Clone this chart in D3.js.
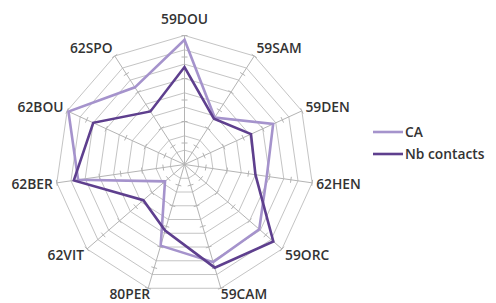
<!DOCTYPE html>
<html><head><meta charset="utf-8">
<script src="https://cdn.jsdelivr.net/npm/d3@7"></script>
<style>body{margin:0;background:#fff}svg{display:block}</style>
</head><body>
<svg id="c" width="496" height="303"></svg>
<script>
const categories = ["59DOU","59SAM","59DEN","62HEN","59ORC","59CAM","80PER","62VIT","62BER","62BOU","62SPO"];
const seriesNames = ["CA","Nb contacts"];
const caValues = [87,39,68,58,69,71,59,18,75,89,64];
const nbValues = [68,38,51,50,82,75,48,38,78,70,44];
const gridValues = [10,20,30,40,50,60,70,80,90];
const tickValues = [15,30,45,60,75,90];
const colors = ["#a593cc","#5e3f8e"];

const svg = d3.select("#c");
const cx = 184.5, cy = 164.5, R = 129;
const r = d3.scaleLinear().domain([0,90]).range([0,R]);
const ang = d3.scalePoint().domain(categories).range([0, 2*Math.PI*(categories.length-1)/categories.length]);
const pt = (c,v)=>[cx + r(v)*Math.sin(ang(c)), cy - r(v)*Math.cos(ang(c))];
const FONT = "Open Sans, sans-serif", FS = 13.8, TXT = "#333";

const g = svg.append("g");
gridValues.forEach(v=>{
  g.append("path").attr("d", d3.line()(categories.map(c=>pt(c,v))) + "Z")
   .attr("fill","none").attr("stroke","#c4c4c4").attr("stroke-width",1);
});
categories.forEach(c=>{
  const [x,y]=pt(c,90);
  g.append("line").attr("x1",cx).attr("y1",cy).attr("x2",x).attr("y2",y)
   .attr("stroke","#b4b4b4").attr("stroke-width",1);
  tickValues.forEach(v=>{
    const [px,py]=pt(c,v);
    const a=ang(c); const dx=Math.cos(a)*3, dy=Math.sin(a)*3;
    g.append("line").attr("x1",px-dx).attr("y1",py-dy).attr("x2",px+dx).attr("y2",py+dy)
     .attr("stroke","#b4b4b4").attr("stroke-width",1);
  });
});
[caValues, nbValues].forEach((vals,i)=>{
  g.append("path").attr("d", d3.line()(categories.map((c,j)=>pt(c,vals[j]))) + "Z")
   .attr("fill","none").attr("stroke",colors[i]).attr("stroke-width",2.6)
   .attr("stroke-linejoin","miter");
});
categories.forEach(c=>{
  const a=ang(c);
  const [x,y]=pt(c,90);
  const s=Math.sin(a), co=-Math.cos(a);
  let anchor = Math.abs(s)<0.2 ? "middle" : (s>0 ? "start":"end");
  let lx = x + s*4, ly = y + co*9 + 5;
  if (Math.abs(s)<0.2) { ly = y - 12; }
  if (co>0.9) { ly = y + 11; anchor = s>0 ? "start" : "end"; lx = x + (s>0?0:2); }
  g.append("text").attr("x",lx).attr("y",ly).attr("text-anchor",anchor)
   .attr("font-family",FONT).attr("font-weight",600)
   .attr("font-size",FS).attr("fill",TXT).text(c);
});
const leg = svg.append("g").attr("transform","translate(373,132)");
seriesNames.forEach((n,i)=>{
  leg.append("line").attr("x1",0).attr("x2",30).attr("y1",i*22).attr("y2",i*22)
    .attr("stroke",colors[i]).attr("stroke-width",2.6);
  leg.append("text").attr("x",32).attr("y",i*22+5)
    .attr("font-family",FONT).attr("font-weight",600)
    .attr("font-size",FS).attr("fill",TXT).text(n);
});
</script>
</body></html>
